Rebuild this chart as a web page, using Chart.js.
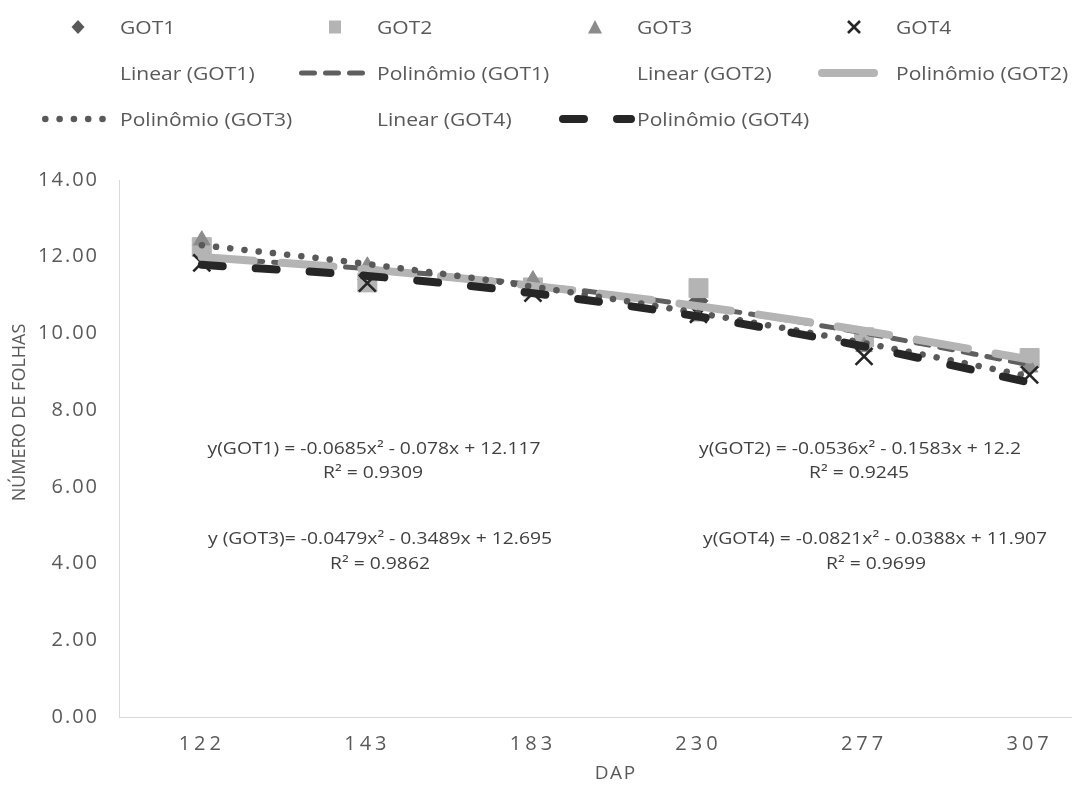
<!DOCTYPE html>
<html>
<head>
<meta charset="utf-8">
<script src="https://cdn.jsdelivr.net/npm/chart.js@4.4.1/dist/chart.umd.min.js"></script>
<style>
html,body{margin:0;padding:0;width:1072px;height:789px;overflow:hidden;background:#fff;}
#wrap{position:relative;width:1072px;height:789px;overflow:hidden;}
#c{position:absolute;left:0;top:0;}
.txt{position:absolute;white-space:nowrap;font-family:'Open Sans',sans-serif;color:#595959;line-height:26px;}
.leg{font-size:18px;transform-origin:0 50%;transform:scaleX(1.17);}
.eq{font-size:16.5px;color:#404040;transform:translate(-50%,-50%) scaleX(1.17);}
#legsvg{position:absolute;left:0;top:0;}
</style>
</head>
<body>
<div id="wrap">
  <canvas id="c" width="1127" height="789"></canvas>
  <svg id="legsvg" width="1072" height="150"></svg>
</div>
<script>
// ---------- data ----------
const categories = ['122', '143', '183', '230', '277', '307'];
const got1 = [12.30, 11.40, 11.22, 10.85, 9.78, 9.20];
const got2 = [12.25, 11.33, 11.20, 11.18, 9.90, 9.36];
const got3 = [12.43, 11.75, 11.39, 10.45, 9.65, 9.12];
const got4 = [11.84, 11.31, 11.05, 10.50, 9.40, 8.92];
const poly1 = [11.97, 11.69, 11.27, 10.71, 10.01, 9.18];
const poly2 = [11.99, 11.67, 11.24, 10.71, 10.07, 9.32];
const poly3 = [12.30, 11.81, 11.22, 10.53, 9.75, 8.88];
const poly4 = [11.79, 11.50, 11.05, 10.44, 9.66, 8.72];
const yTicks = [0, 2, 4, 6, 8, 10, 12, 14];
const seriesNames = ['GOT1', 'GOT2', 'GOT3', 'GOT4'];
const legendLabels = ['GOT1', 'GOT2', 'GOT3', 'GOT4', 'Linear (GOT1)', 'Polinômio (GOT1)', 'Linear (GOT2)', 'Polinômio (GOT2)', 'Polinômio (GOT3)', 'Linear (GOT4)', 'Polinômio (GOT4)'];
const equations = ['y(GOT1) = -0.0685x² - 0.078x + 12.117', 'y(GOT2) = -0.0536x² - 0.1583x + 12.2', 'y (GOT3)= -0.0479x² - 0.3489x + 12.695', 'y(GOT4) = -0.0821x² - 0.0388x + 11.907'];
const rSquared = ['R² = 0.9309', 'R² = 0.9245', 'R² = 0.9862', 'R² = 0.9699'];
const xTitle = 'DAP';
const yTitle = 'NÚMERO DE FOLHAS';

// ---------- styles ----------
const pointData = [got1, got2, got3, got4];
const polyData = [poly1, poly2, poly3, poly4];
const pointStyles = [
  {style: 'rectRot', color: '#595959', r: 9.5, bw: 1},
  {style: 'rect', color: '#b4b4b4', r: 13.4, bw: 1},
  {style: 'triangle', color: '#8c8c8c', r: 9.5, bw: 1},
  {style: 'crossRot', color: '#262626', r: 12, bw: 2.6}
];
const lineStyles = [
  {color: '#5f5f5f', width: 5, dash: [13, 11]},
  {color: '#b4b4b4', width: 8, dash: [52, 28]},
  {color: '#595959', width: 6.5, dash: [0.1, 14.2]},
  {color: '#262626', width: 8, dash: [21, 33]}
];

const datasets = [];
polyData.forEach((d, i) => {
  const s = lineStyles[i];
  datasets.push({
    type: 'line', label: 'Polinômio (' + seriesNames[i] + ')', data: d,
    borderColor: s.color, borderWidth: s.width, borderDash: s.dash, borderCapStyle: 'round',
    pointRadius: 0, pointHoverRadius: 0, fill: false,
    cubicInterpolationMode: 'monotone', order: 4 - i
  });
});
pointData.forEach((d, i) => {
  const s = pointStyles[i];
  datasets.push({
    type: 'line', label: seriesNames[i], data: d, showLine: false,
    pointStyle: s.style, pointRadius: s.r, pointHoverRadius: s.r,
    pointBackgroundColor: s.color, pointBorderColor: s.color, pointBorderWidth: s.bw,
    order: 8 - i
  });
});

const spacingPlugin = {
  id: 'spacing',
  afterUpdate(chart) {
    const conf = {x: {labels: '4px', title: '1.5px', shift: 0}, y: {labels: '2px', title: '0px', shift: -36}};
    for (const id of Object.keys(conf)) {
      const s = chart.scales[id];
      if (!s || s.__sp) continue;
      const wrap = (fn, sp, shift) => {
        const orig = s[fn];
        s[fn] = function (...a) {
          const c = this.ctx; c.save();
          c.letterSpacing = sp; if (shift) c.translate(0, shift);
          const r = orig.apply(this, a); c.restore(); return r;
        };
      };
      wrap('drawLabels', conf[id].labels, 0);
      wrap('drawTitle', conf[id].title, conf[id].shift);
      s.__sp = true;
    }
  }
};

const tickFont = {family: "'Open Sans', sans-serif", size: 20};
const titleFont = {family: "'Open Sans', sans-serif", size: 18};
new Chart(document.getElementById('c'), {
  type: 'line',
  data: {labels: categories, datasets},
  plugins: [spacingPlugin],
  options: {
    responsive: false, animation: false, events: [],
    layout: {padding: {top: 180, left: 0, right: 0, bottom: 0}},
    plugins: {legend: {display: false}, tooltip: {enabled: false}},
    scales: {
      x: {
        type: 'category', offset: true,
        grid: {display: false, drawTicks: false},
        border: {display: true, color: '#d9d9d9', width: 1},
        ticks: {color: '#595959', font: tickFont, padding: 15, maxRotation: 0, autoSkip: false},
        title: {display: true, text: xTitle, color: '#595959', font: {family: "'Open Sans', sans-serif", size: 19}, padding: {top: 0, bottom: 4}},
        afterFit(s) { s.height = 72; }
      },
      y: {
        min: 0, max: 14,
        afterBuildTicks(s) { s.ticks = yTicks.map(v => ({value: v})); },
        grid: {display: false, drawTicks: false},
        border: {display: true, color: '#d9d9d9', width: 1},
        ticks: {color: '#595959', font: tickFont, padding: 20, callback: v => Number(v).toFixed(2)},
        title: {display: true, text: yTitle, color: '#595959', font: titleFont, padding: {top: 9, bottom: 0}},
        afterFit(s) { s.width = 119; }
      }
    }
  }
});

// ---------- legend (HTML text + SVG samples) ----------
const wrapEl = document.getElementById('wrap');
const svg = document.getElementById('legsvg');
const NS = 'http://www.w3.org/2000/svg';
const colX = [120, 377, 637, 896];
const rowY = [27, 73, 119];
function el(tag, attrs) { const e = document.createElementNS(NS, tag); for (const k in attrs) e.setAttribute(k, attrs[k]); svg.appendChild(e); return e; }
function marker(i, cx, cy) {
  const c = pointStyles[i].color;
  if (i === 0) el('polygon', {points: `${cx},${cy-7} ${cx+6.5},${cy} ${cx},${cy+7} ${cx-6.5},${cy}`, fill: c});
  if (i === 1) el('rect', {x: cx - 6, y: cy - 6.5, width: 12, height: 13, fill: c});
  if (i === 2) el('polygon', {points: `${cx},${cy-7} ${cx+7},${cy+6.5} ${cx-7},${cy+6.5}`, fill: c});
  if (i === 3) {
    el('line', {x1: cx-6, y1: cy-6, x2: cx+6, y2: cy+6, stroke: c, 'stroke-width': 2.6});
    el('line', {x1: cx+6, y1: cy-6, x2: cx-6, y2: cy+6, stroke: c, 'stroke-width': 2.6});
  }
}
function sample(i, tx, cy) {
  const s = lineStyles[i];
  el('line', {x1: tx - 78 + s.width / 2, y1: cy, x2: tx - 6, y2: cy, stroke: s.color, 'stroke-width': s.width,
    'stroke-dasharray': s.dash.join(' '), 'stroke-linecap': 'round'});
}
legendLabels.forEach((lab, k) => {
  const col = k % 4, row = Math.floor(k / 4);
  const tx = colX[col], cy = rowY[row];
  const d = document.createElement('div');
  d.className = 'txt leg'; d.textContent = lab;
  d.style.left = tx + 'px'; d.style.top = (cy - 13) + 'px';
  wrapEl.appendChild(d);
  const si = seriesNames.indexOf(lab);
  if (si >= 0) marker(si, tx - 42, cy);
  const m = lab.match(/^Polinômio \((GOT\d)\)$/);
  if (m) sample(seriesNames.indexOf(m[1]), tx, cy);
});

// ---------- equations ----------
const eqPos = [[374, 448, 373, 472], [860, 448, 859, 472], [380, 538, 380, 563], [875, 538, 876, 563]];
equations.forEach((t, i) => {
  const p = eqPos[i];
  [[t, p[0], p[1]], [rSquared[i], p[2], p[3]]].forEach(([txt, x, y]) => {
    const d = document.createElement('div');
    d.className = 'txt eq'; d.textContent = txt;
    d.style.left = x + 'px'; d.style.top = y + 'px';
    wrapEl.appendChild(d);
  });
});
</script>
</body>
</html>
